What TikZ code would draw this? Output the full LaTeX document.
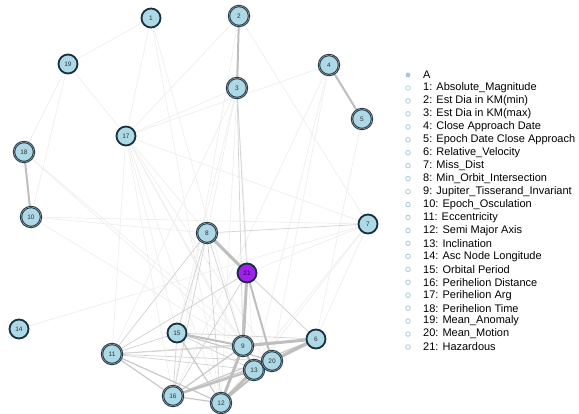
\documentclass[tikz,border=0pt]{standalone}
\usepackage{fontspec}
\setmainfont{Liberation Sans}
\usetikzlibrary{backgrounds}
\definecolor{nfill}{HTML}{ADD8E6}
\definecolor{nring}{HTML}{17303F}
\definecolor{hpurple}{HTML}{A020F0}
\definecolor{lbl}{HTML}{333333}
\definecolor{ecol}{HTML}{BEBEBE}
\tikzset{
  vnode/.style={circle, fill=nfill, draw=nring, line width=1.8pt, minimum size=19pt, inner sep=0pt,
    font=\fontsize{6.5}{6.5}\selectfont, text=lbl},
  vnodeb/.style={vnode, double=gray!70, double distance=0.5pt, line width=0.9pt, minimum size=20pt},
  hnode/.style={vnode, fill=hpurple, text=black!75!hpurple},
  ethick/.style={draw=ecol, line width=3pt},
  emid/.style={draw=ecol, line width=2pt},
  elow/.style={draw=ecol!85, line width=1.2pt},
  ethin/.style={draw=gray!35, line width=0.7pt},
  efaint/.style={draw=gray!13, line width=0.7pt},
  legtext/.style={anchor=west, font=\fontsize{11}{13}\selectfont, inner sep=0pt},
  legdot/.style={circle, draw=nfill!85!gray, line width=0.8pt, minimum size=4.6pt, inner sep=0pt},
  legfill/.style={circle, fill=nfill!85!gray, minimum size=5pt, inner sep=0pt}
}
\begin{document}
\begin{tikzpicture}[x=1pt,y=-1pt]
\useasboundingbox (0,0) rectangle (579,414);
% nodes
\node[vnode]  (n1)  at (151,18) {1};
\node[vnodeb] (n2)  at (239,16) {2};
\node[vnodeb] (n3)  at (237,88) {3};
\node[vnodeb] (n4)  at (329,65) {4};
\node[vnodeb] (n5)  at (362,119) {5};
\node[vnode]  (n6)  at (316,339) {6};
\node[vnode]  (n7)  at (368,224) {7};
\node[vnodeb] (n8)  at (207,233) {8};
\node[vnodeb] (n9)  at (243,346) {9};
\node[vnodeb] (n10) at (31,217) {10};
\node[vnodeb] (n11) at (112,354) {11};
\node[vnodeb] (n12) at (221,403) {12};
\node[vnodeb] (n13) at (254,370) {13};
\node[vnode]  (n14) at (19,329) {14};
\node[vnode]  (n15) at (177,333) {15};
\node[vnodeb] (n16) at (173,396) {16};
\node[vnode]  (n17) at (126,136) {17};
\node[vnodeb] (n18) at (24,152) {18};
\node[vnode]  (n19) at (68,64) {19};
\node[vnodeb] (n20) at (272,361) {20};
\node[hnode]  (n21) at (247,273) {21};
% edges
\begin{pgfonlayer}{background}
\foreach \a/\b in {n19/n17,n19/n18,n19/n10,n1/n19,n1/n17,n1/n9,n17/n11,n17/n16,n17/n15,n17/n9,n17/n12,n17/n13,n17/n20,n17/n7,n3/n17,n3/n13,n3/n12,n3/n15,n3/n8,n2/n17,n2/n7,n2/n16,n4/n17,n4/n13,n4/n20,n4/n16,n10/n7,n10/n9,n10/n8,n14/n7,n18/n9,n18/n20,n7/n6,n7/n21,n7/n13,n7/n12,n5/n6,n8/n6,n17/n8,n1/n12,n3/n11}
  \draw[efaint] (\a) -- (\b);
\foreach \a/\b in {n3/n9,n3/n21,n15/n16,n11/n15,n11/n9,n11/n20,n11/n8,n11/n13,n11/n6,n8/n7,n8/n16,n8/n12,n8/n9,n8/n15,n21/n6,n21/n11,n21/n16,n15/n6,n15/n13}
  \draw[ethin] (\a) -- (\b);
\foreach \a/\b in {n15/n12,n11/n16,n11/n12,n16/n9,n16/n20,n16/n6,n15/n20,n16/n12}
  \draw[elow] (\a) -- (\b);
\foreach \a/\b in {n2/n3,n4/n5,n18/n10,n9/n13,n16/n13,n13/n20,n12/n20,n21/n20,n15/n9}
  \draw[emid] (\a) -- (\b);
\foreach \a/\b in {n8/n21,n21/n9,n9/n6,n9/n12,n13/n6,n20/n6,n12/n13}
  \draw[ethick] (\a) -- (\b);
\end{pgfonlayer}
% legend
\node[legfill] (la) at (408,75) {};
\node[legtext] (ta) at (423,75) {A};
\foreach \i/\t in {1/{1: Absolute\_Magnitude},2/{2: Est Dia in KM(min)},3/{3: Est Dia in KM(max)},4/{4: Close Approach Date},5/{5: Epoch Date Close Approach},6/{6: Relative\_Velocity},7/{7: Miss\_Dist},8/{8: Min\_Orbit\_Intersection},9/{9: Jupiter\_Tisserand\_Invariant},10/{10: Epoch\_Osculation},11/{11: Eccentricity},12/{12: Semi Major Axis},13/{13: Inclination},14/{14: Asc Node Longitude},15/{15: Orbital Period},16/{16: Perihelion Distance},17/{17: Perihelion Arg},18/{18: Perihelion Time},19/{19: Mean\_Anomaly},20/{20: Mean\_Motion},21/{21: Hazardous}}{
  \node[legdot] (l\i) at (408,{88+(\i-1)*12.95}) {};
  \node[legtext] (t\i) at (423,{88+(\i-1)*12.95}) {\t};
}
\end{tikzpicture}
\end{document}
